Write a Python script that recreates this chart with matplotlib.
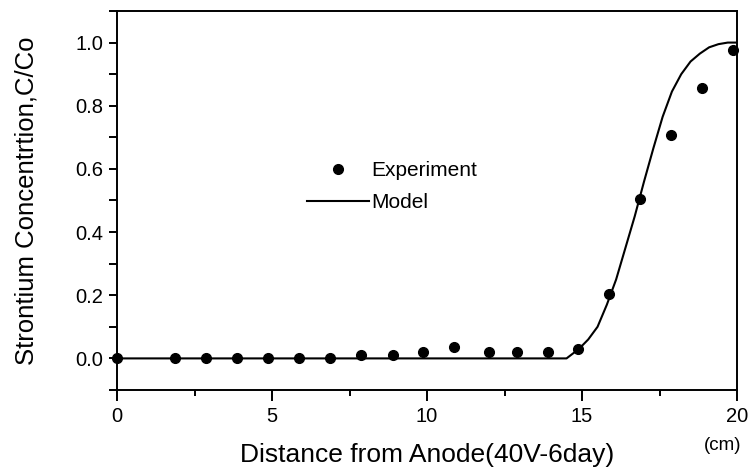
import matplotlib as mpl
mpl.use('Agg')

fsize = 14.5
mpl.rcParams['font.family'] = ['Liberation Sans', 'DejaVu Sans']
mpl.rcParams['xtick.labelsize'] = fsize
mpl.rcParams['ytick.labelsize'] = fsize
mpl.rcParams['axes.linewidth'] = 1.4

import matplotlib.pyplot as plt
from matplotlib.ticker import MultipleLocator, FormatStrFormatter

# experiment points (distance in cm, C/Co)
exp_x = [0, 1.87, 2.88, 3.86, 4.86, 5.86, 6.88, 7.86, 8.9, 9.88,
         10.88, 11.99, 12.89, 13.89, 14.88, 15.87, 16.86, 17.86, 18.88, 19.87]
exp_y = [0.0, 0.0, 0.0, 0.0, 0.0, 0.0, 0.0, 0.01, 0.01, 0.02,
         0.035, 0.02, 0.02, 0.02, 0.03, 0.204, 0.505, 0.708, 0.855, 0.977]

# model curve
model_x = [0, 14.5, 14.9, 15.2, 15.5, 15.8, 16.1, 16.4, 16.7, 17.0,
           17.3, 17.6, 17.9, 18.2, 18.5, 18.8, 19.1, 19.4, 19.7, 20.0]
model_y = [0.0, 0.0, 0.03, 0.06, 0.10, 0.17, 0.25, 0.35, 0.45, 0.56,
           0.665, 0.765, 0.845, 0.9, 0.94, 0.965, 0.985, 0.995, 1.0, 1.0]

fig = plt.figure(figsize=(7.53, 4.76), dpi=100)
ax = fig.add_axes([0.1554, 0.1807, 0.8234, 0.7962])

ax.plot(exp_x, exp_y, 'o', color='black', markersize=7, label='Experiment', clip_on=False, zorder=3)
ax.plot(model_x, model_y, '-', color='black', lw=1.5, label='Model')

ax.set_xlim(0, 20)
ax.set_ylim(-0.1, 1.1)

ax.xaxis.set_major_locator(MultipleLocator(5))
ax.xaxis.set_minor_locator(MultipleLocator(2.5))
ax.yaxis.set_major_locator(MultipleLocator(0.2))
ax.yaxis.set_minor_locator(MultipleLocator(0.1))
ax.yaxis.set_major_formatter(FormatStrFormatter('%.1f'))

ax.tick_params(axis='x', which='major', direction='out', length=8, width=1.4, pad=4)
ax.tick_params(axis='x', which='minor', direction='out', length=4, width=1.4)
ax.tick_params(axis='y', which='major', direction='out', length=6, width=1.4, pad=4)
ax.tick_params(axis='y', which='minor', direction='out', length=6, width=1.4)

ax.set_xlabel('Distance from Anode(40V-6day)', fontsize=19)
ax.set_ylabel('Strontium Concentrtion,C/Co', fontsize=18.5)
ax.xaxis.set_label_coords(0.5, -0.14)
ax.yaxis.set_label_coords(-0.127, 0.5)

ax.text(0.977, -0.146, '(cm)', transform=ax.transAxes, fontsize=13.5, ha='center', va='center')

ax.legend(loc='upper left', bbox_to_anchor=(0.306, 0.604), frameon=False,
          fontsize=15, handlelength=3.0, handletextpad=0.1, labelspacing=0.64,
          borderpad=0, borderaxespad=0)

fig.savefig('out.png', dpi=100)
